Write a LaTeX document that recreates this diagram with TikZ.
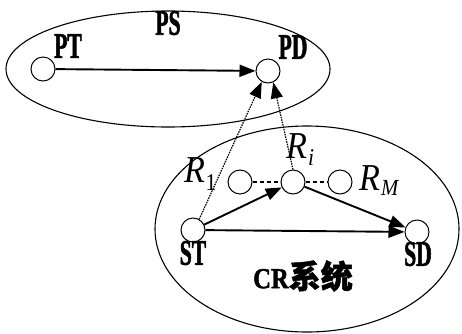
\documentclass[tikz,border=0pt]{standalone}
\usepackage{fontspec}
\setmainfont{Liberation Serif}
\newfontfamily\labfont[FakeStretch=0.6,FakeBold=1.5]{Liberation Serif}
\newfontfamily\crfont[FakeStretch=0.85,FakeBold=1.5]{Liberation Serif}
\newfontfamily\rfont[FakeStretch=0.9]{Liberation Serif}
\newfontfamily\cjkfont[FakeBold=1.5]{Noto Sans CJK SC}
\usetikzlibrary{arrows.meta,shapes.geometric}
\begin{document}
\begin{tikzpicture}[x=1pt,y=-1pt,
  region/.style={draw, ellipse, line width=1.1pt, inner sep=0pt},
  station/.style={draw, circle, line width=1pt, minimum size=24pt, inner sep=0pt, fill=white},
  lab/.style={inner sep=0pt, font=\labfont\bfseries\fontsize{36}{36}\selectfont},
  rlab/.style={inner sep=0pt, anchor=base west, font=\rfont\itshape\fontsize{38}{38}\selectfont},
  sub/.style={},
  arr/.style={line width=1.9pt, -{Triangle[length=16pt,width=12pt]}},
  dotarr/.style={line width=1.2pt, dash pattern=on 1.5pt off 1pt, -{Triangle[length=16pt,width=12pt]}},
  rdash/.style={line width=2pt, dash pattern=on 4pt off 3pt}
]
\useasboundingbox (0,0) rectangle (462,333);
\node[region, minimum width=324pt, minimum height=116pt] (PS) at (168,69) {};
\node[region, minimum width=304pt, minimum height=206pt] (CR) at (307,229) {};
% stations
\node[station] (PT) at (43,69) {};
\node[station] (PD) at (268,71) {};
\node[station] (ST) at (193,230) {};
\node[station] (SD) at (417,232) {};
\node[station] (R1) at (240,182) {};
\node[station] (Ri) at (293,182) {};
\node[station] (RM) at (340,182) {};
% labels
\node[lab] (PSl) at (168,23) {PS};
\node[lab] (PTl) at (68,46) {PT};
\node[lab] (PDl) at (293,47) {PD};
\node[lab] (STl) at (193,253) {ST};
\node[lab] (SDl) at (418,254) {SD};
\node[inner sep=0pt] (CRl) at (303,276) {{\crfont\bfseries\fontsize{29}{29}\selectfont CR}{\cjkfont\bfseries\fontsize{32}{32}\selectfont 系统}};
\node[rlab] (R1l) at (184,182) {R\kern0.5pt\raisebox{-8pt}{\upshape\fontsize{24}{24}\selectfont 1}};
\node[rlab] (Ril) at (286,158) {R\kern1pt\raisebox{-7pt}{\fontsize{24}{24}\selectfont i}};
\node[rlab] (RMl) at (359,190) {R\kern1pt\raisebox{-5pt}{\fontsize{23}{23}\selectfont M}};
% connectors
\draw[arr] (PT) -- (PD);
\draw[dotarr] (ST.60) -- (PD.-120);
\draw[dotarr] (Ri.north) -- (PD.-65);
\draw[arr] (ST) -- (Ri);
\draw[arr] (Ri) -- (SD);
\draw[arr] (ST) -- (SD);
\draw[rdash] (R1) -- (Ri);
\draw[rdash] (Ri) -- (RM);
\end{tikzpicture}
\end{document}
